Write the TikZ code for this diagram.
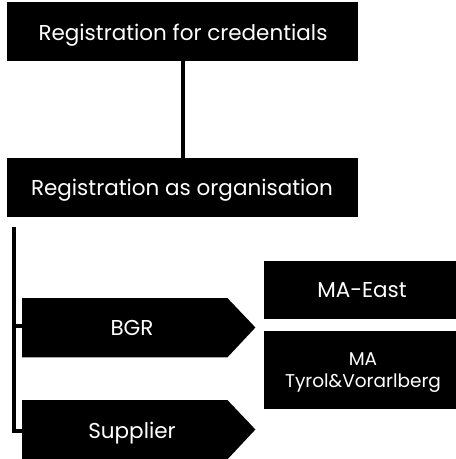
\documentclass[tikz,border=0pt]{standalone}
\usepackage{fontspec}
\setmainfont{Poppins}
\begin{document}
\begin{tikzpicture}[x=1pt,y=-1pt,
  blk/.style={fill=black,inner sep=0pt,anchor=north west},
  lbl/.style={text=white,font=\fontsize{21.5}{24}\selectfont,align=center,inner sep=0pt,anchor=base},
  sml/.style={text=white,font=\fontsize{18.5}{22}\selectfont,align=center,inner sep=0pt},
  conn/.style={line width=4pt}]
\useasboundingbox (0,0) rectangle (456,459);
% top boxes
\node[blk,minimum width=351pt,minimum height=59pt] (cred) at (7,2) {};
\node[lbl] (credt) at (183,40.5) {Registration for credentials};
\node[blk,minimum width=351pt,minimum height=58.5pt] (org) at (7,158) {};
\node[lbl] (orgt) at (182,195) {Registration as organisation};
\draw[conn] (cred.south -| 183,0) -- (org.north -| 183,0);
% pentagons
\node[inner sep=0pt,minimum width=205pt,minimum height=59pt,anchor=north west] (bgr) at (22,298) {};
\fill (bgr.north west) -- (bgr.north east) -- ++(28,29.5) -- (bgr.south east) -- (bgr.south west) -- cycle;
\node[lbl] (bgrt) at (132,335.5) {BGR};
\node[inner sep=0pt,minimum width=205pt,minimum height=59pt,anchor=north west] (sup) at (22,400) {};
\fill (sup.north west) -- (sup.north east) -- ++(28,29.5) -- (sup.south east) -- (sup.south west) -- cycle;
\node[lbl] (supt) at (132,438) {Supplier};
% bracket
\coordinate (brtop) at (14,227);
\draw[line width=4pt] (brtop) -- (14,431) -- (sup.west |- 0,431);
\draw[line width=4pt] (14,326) -- (bgr.west |- 0,326);
% right boxes
\node[blk,minimum width=192pt,minimum height=58pt] (east) at (264,261) {};
\node[lbl] (eastt) at (362,297.5) {MA-East};
\node[blk,minimum width=192pt,minimum height=78pt] (tyr) at (264,331) {};
\node[sml] (tyrt) at (363,373) {MA\\Tyrol\&Vorarlberg};
\end{tikzpicture}
\end{document}
